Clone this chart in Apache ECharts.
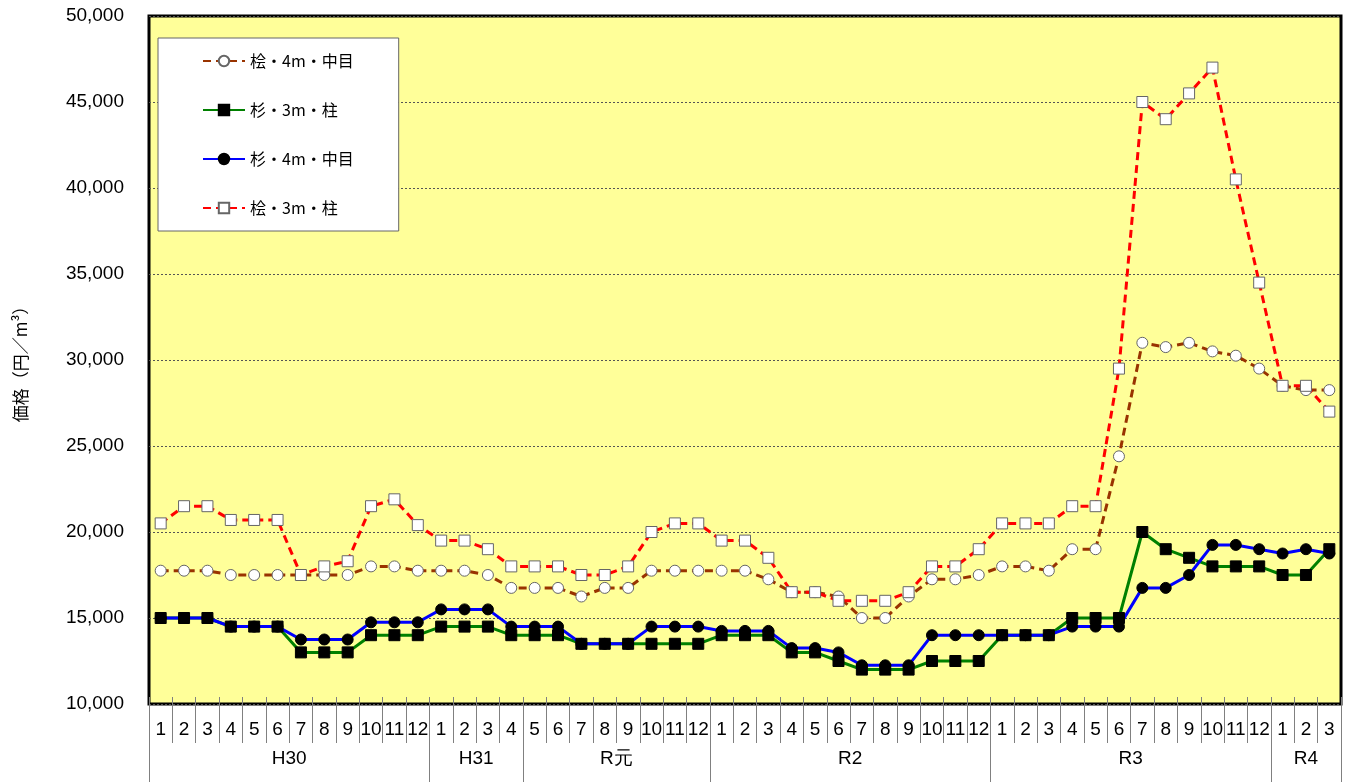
<!DOCTYPE html>
<html><head><meta charset="utf-8">
<script src="https://cdn.jsdelivr.net/npm/echarts@6/dist/echarts.min.js"></script>
<style>html,body{margin:0;padding:0;background:#fff}#c{width:1346px;height:782px}</style>
</head><body><div id="c"></div>
<script>
// ---- data ----
const periodLabels = ['H30','H31','R元','R2','R3','R4'];
const periodMonths = [
  ['1','2','3','4','5','6','7','8','9','10','11','12'],
  ['1','2','3','4'],
  ['5','6','7','8','9','10','11','12'],
  ['1','2','3','4','5','6','7','8','9','10','11','12'],
  ['1','2','3','4','5','6','7','8','9','10','11','12'],
  ['1','2','3']
];
const seriesNames = ['桧・4m・中目','杉・3m・柱','杉・4m・中目','桧・3m・柱'];
const hinoki4m = [17750,17750,17750,17500,17500,17500,17500,17500,17500,18000,18000,17750,
  17750,17750,17500,16750,
  16750,16750,16250,16750,16750,17750,17750,17750,
  17750,17750,17250,16500,16500,16250,15000,15000,16250,17250,17250,17500,
  18000,18000,17750,19000,19000,24400,31000,30750,31000,30500,30250,29500,
  28500,28250,28250];
const sugi3m = [15000,15000,15000,14500,14500,14500,13000,13000,13000,14000,14000,14000,
  14500,14500,14500,14000,
  14000,14000,13500,13500,13500,13500,13500,13500,
  14000,14000,14000,13000,13000,12500,12000,12000,12000,12500,12500,12500,
  14000,14000,14000,15000,15000,15000,20000,19000,18500,18000,18000,18000,
  17500,17500,19000];
const sugi4m = [15000,15000,15000,14500,14500,14500,13750,13750,13750,14750,14750,14750,
  15500,15500,15500,14500,
  14500,14500,13500,13500,13500,14500,14500,14500,
  14250,14250,14250,13250,13250,13000,12250,12250,12250,14000,14000,14000,
  14000,14000,14000,14500,14500,14500,16750,16750,17500,19250,19250,19000,
  18750,19000,18750];
const hinoki3m = [20500,21500,21500,20700,20700,20700,17500,18000,18300,21500,21900,20400,
  19500,19500,19000,18000,
  18000,18000,17500,17500,18000,20000,20500,20500,
  19500,19500,18500,16500,16500,16000,16000,16000,16500,18000,18000,19000,
  20500,20500,20500,21500,21500,29500,45000,44000,45500,47000,40500,34500,
  28500,28500,27000];
const yMin = 10000, yMax = 50000, yStep = 5000;
const yAxisName = '価格（円／m³）';

// ---- derived ----
const categories = [], monthText = [], periodStart = [], periodEnd = [];
periodMonths.forEach((ms, p) => {
  periodStart.push(categories.length);
  ms.forEach(m => { categories.push(periodLabels[p] + '-' + m); monthText.push(m); });
  periodEnd.push(categories.length - 1);
});

const chart = echarts.init(document.getElementById('c'));
const jp = "'Noto Sans CJK JP', sans-serif";
const narrow = "'Liberation Sans Narrow', 'Liberation Sans', sans-serif";

function lineSeries(name, data, color, dashed, symbol, fill) {
  return {
    name, type: 'line', data, xAxisIndex: 0, yAxisIndex: 0,
    symbol, symbolSize: 11, showAllSymbol: true,
    lineStyle: { color, width: 3, type: dashed ? [8, 5] : 'solid' },
    itemStyle: { color: fill, borderColor: fill === '#000' ? '#000' : '#666', borderWidth: 1 },
    emphasis: { disabled: true }, animation: false
  };
}

const option = {
  animation: false,
  backgroundColor: '#fff',
  grid: { left: 149, right: 5, top: 16, bottom: 78, show: true, backgroundColor: '#FFFF99', borderColor: '#000', borderWidth: 3, containLabel: false },
  legend: {
    data: seriesNames, orient: 'vertical', left: 158, top: 38,
    padding: [15, 45, 15, 44], itemWidth: 42, itemHeight: 13, itemGap: 33,
    backgroundColor: '#fff', borderColor: '#666', borderWidth: 1,
    textStyle: { fontSize: 16, color: '#000', fontFamily: jp }
  },
  xAxis: [
    { type: 'category', data: categories, position: 'bottom', boundaryGap: true,
      axisLine: { show: false },
      axisTick: { show: true, inside: true, length: 7, lineStyle: { color: '#808080' } },
      axisLabel: { interval: 0, margin: 16, fontSize: 19, color: '#000', fontFamily: narrow,
        formatter: (v, i) => monthText[i] },
      splitLine: { show: false } },
    { type: 'category', data: categories, position: 'bottom', boundaryGap: true,
      axisLine: { show: false },
      axisTick: { show: true, inside: false, length: 39, interval: 0, lineStyle: { color: '#808080' } },
      axisLabel: { show: false }, splitLine: { show: false } },
    { type: 'category', data: categories, position: 'bottom', boundaryGap: true,
      axisLine: { show: false },
      axisTick: { show: true, inside: false, length: 80,
        interval: (i) => periodStart.indexOf(i) >= 0, lineStyle: { color: '#808080' } },
      axisLabel: { show: false }, splitLine: { show: false } }
  ],
  yAxis: {
    type: 'value', min: yMin, max: yMax, interval: yStep,
    axisLine: { show: false }, axisTick: { show: false },
    axisLabel: { margin: 25, fontSize: 19, color: '#000', fontFamily: "'Liberation Sans', sans-serif",
      formatter: v => v.toLocaleString('en-US') },
    splitLine: { show: true, lineStyle: { color: '#555', width: 1, type: [2, 2] } },
    name: yAxisName, nameLocation: 'middle', nameGap: 120,
    nameTextStyle: { fontSize: 17, color: '#000', fontFamily: jp }
  },
  series: [
    lineSeries(seriesNames[0], hinoki4m, '#993300', true, 'circle', '#fff'),
    lineSeries(seriesNames[1], sugi3m, '#008000', false, 'rect', '#000'),
    lineSeries(seriesNames[2], sugi4m, '#0000FF', false, 'circle', '#000'),
    lineSeries(seriesNames[3], hinoki3m, '#FF0000', true, 'rect', '#fff'),
    {
      type: 'custom', name: 'periods', xAxisIndex: 0, yAxisIndex: 0, clip: false, silent: true,
      data: periodLabels.map((l, i) => [periodStart[i], yMin]),
      renderItem: (params, api) => {
        const i = params.dataIndex;
        const a = api.coord([periodStart[i], yMin]);
        const b = api.coord([periodEnd[i], yMin]);
        return { type: 'text', x: (a[0] + b[0]) / 2, y: a[1] + 55,
          style: { text: periodLabels[i], fill: '#000', font: "19px 'Liberation Sans Narrow', 'Liberation Sans', sans-serif", align: 'center', verticalAlign: 'middle' } };
      }
    }
  ]
};
chart.setOption(option);
</script></body></html>
